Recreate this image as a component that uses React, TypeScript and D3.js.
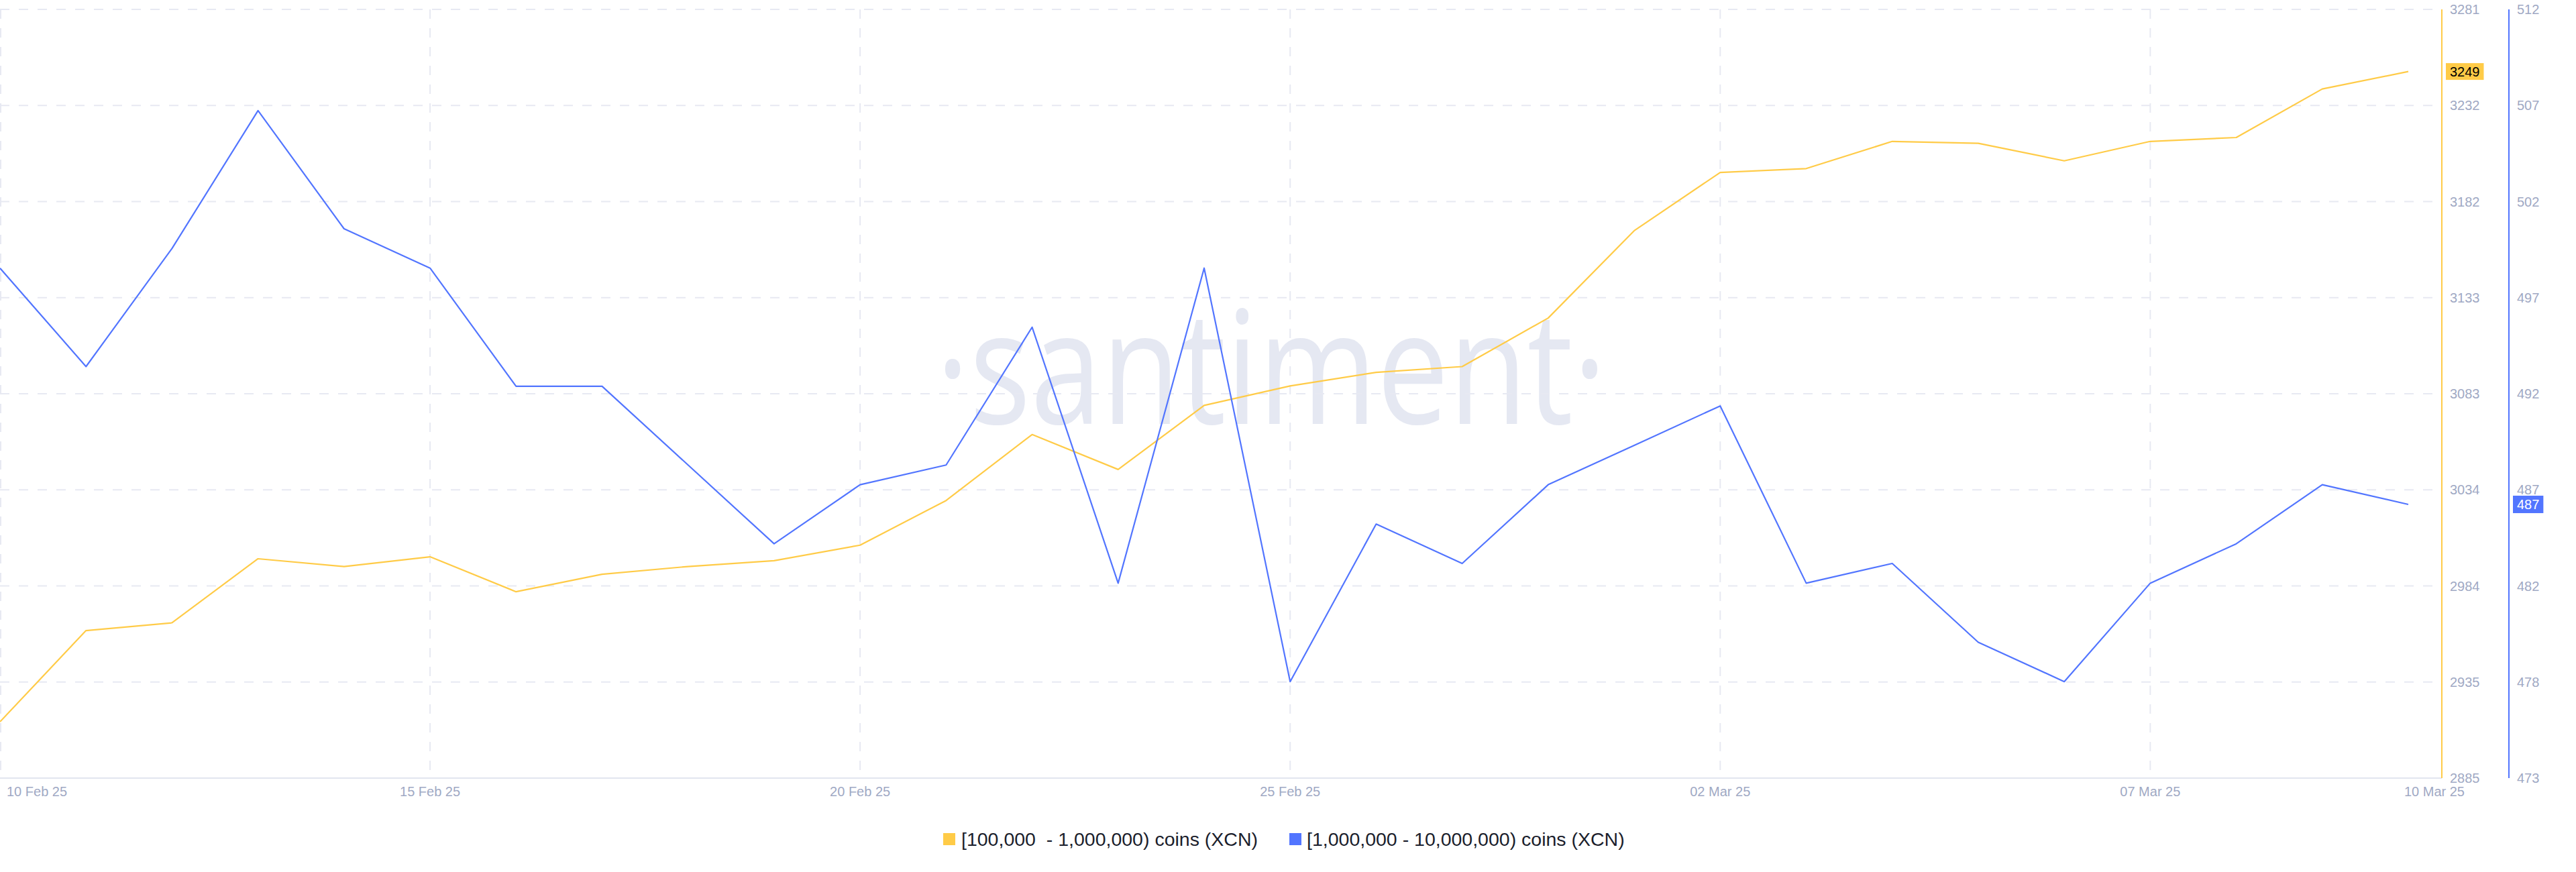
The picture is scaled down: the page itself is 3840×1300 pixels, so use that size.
import React from "react";
import * as d3 from "d3";

const dates = [
  "2025-02-10","2025-02-11","2025-02-12","2025-02-13","2025-02-14","2025-02-15","2025-02-16",
  "2025-02-17","2025-02-18","2025-02-19","2025-02-20","2025-02-21","2025-02-22","2025-02-23",
  "2025-02-24","2025-02-25","2025-02-26","2025-02-27","2025-02-28","2025-03-01","2025-03-02",
  "2025-03-03","2025-03-04","2025-03-05","2025-03-06","2025-03-07","2025-03-08","2025-03-09","2025-03-10",
];

const holders100kTo1M = [
  2914, 2961, 2965, 2998, 2994, 2999, 2981, 2990, 2994, 2997, 3005, 3028, 3062, 3044,
  3077, 3087, 3094, 3097, 3122, 3167, 3197, 3199, 3213, 3212, 3203, 3213, 3215, 3240, 3249,
];

const holders1MTo10M = [
  499, 494, 500, 507, 501, 499, 493, 493, 489, 485, 488, 489, 496, 483,
  499, 478, 486, 484, 488, 490, 492, 483, 484, 480, 478, 483, 485, 488, 487,
];

const yellowDomain = [2885, 3281];
const blueDomain = [473.1, 512.14];
const yellowTickLabels = ["2885", "2935", "2984", "3034", "3083", "3133", "3182", "3232", "3281"];
const blueTickLabels = ["473", "478", "482", "487", "492", "497", "502", "507", "512"];
const xTickDates = ["2025-02-10", "2025-02-15", "2025-02-20", "2025-02-25", "2025-03-02", "2025-03-07", "2025-03-10"];

const seriesNames = ["[100,000  - 1,000,000) coins (XCN)", "[1,000,000 - 10,000,000) coins (XCN)"];
const YELLOW = "#FFCB47";
const BLUE = "#5275FF";

const W = 3840;
const H = 1300;
const plotLeft = 0;
const plotRight = 3640;
const lastX = 3590;
const plotTop = 14;
const plotBottom = 1160;
const labelFont = "'Liberation Sans', Arial, Helvetica, sans-serif";
const tickColor = "#9FA9C4";
const gridColor = "#E7E9F2";

export default function App() {
  const parse = d3.timeParse("%Y-%m-%d");
  const dts = dates.map((d) => parse(d) as Date);
  const x = d3.scaleTime().domain([dts[0], dts[dts.length - 1]]).range([plotLeft, lastX]);
  const yY = d3.scaleLinear().domain(yellowDomain).range([plotBottom, plotTop]);
  const yB = d3.scaleLinear().domain(blueDomain).range([plotBottom, plotTop]);
  const fmt = d3.timeFormat("%d %b %y");

  const lineY = d3.line<number>().x((_, i) => x(dts[i])).y((v) => yY(v));
  const lineB = d3.line<number>().x((_, i) => x(dts[i])).y((v) => yB(v));

  const tickFrac = d3.range(9).map((i) => i / 8);
  const yellowAxisX = plotRight;
  const blueAxisX = plotRight + 100;

  const lastYellow = holders100kTo1M[holders100kTo1M.length - 1];
  const lastBlue = holders1MTo10M[holders1MTo10M.length - 1];
  const badgeW = (s: string) => s.length * 11.12 + 12;

  return (
    <svg width={W} height={H} style={{ position: "absolute", left: 0, top: 0, background: "#fff" }}>
      <rect x={0} y={0} width={W} height={H} fill="#fff" />
      {/* watermark */}
      <text
        x={1395}
        y={632}
        fontFamily="'Open Sans', 'Noto Sans', sans-serif"
        fontSize={235}
        fill="#E5E8F2"
        textLength={1000}
        lengthAdjust="spacingAndGlyphs"
      >
        ·santiment·
      </text>
      {/* horizontal grid */}
      {tickFrac.map((f, i) => {
        const yy = plotBottom - f * (plotBottom - plotTop);
        if (i === 0) return null;
        return (
          <line key={"h" + i} x1={plotLeft} x2={plotRight} y1={yy} y2={yy}
            stroke={gridColor} strokeWidth={2} strokeDasharray="14 14" />
        );
      })}
      {/* vertical grid */}
      {xTickDates.slice(0, -1).map((d) => {
        const xx = Math.max(1, x(parse(d) as Date));
        return (
          <line key={"v" + d} x1={xx} x2={xx} y1={plotTop} y2={plotBottom}
            stroke={gridColor} strokeWidth={2} strokeDasharray="14 14" />
        );
      })}
      {/* x axis */}
      <line x1={plotLeft} x2={plotRight} y1={plotBottom} y2={plotBottom} stroke="#E1E5EF" strokeWidth={2} />
      {xTickDates.map((d, i) => {
        const xx = x(parse(d) as Date);
        let anchor = "middle";
        let tx = xx;
        if (i === 0) { anchor = "start"; tx = xx + 10; }
        if (i === xTickDates.length - 1) { anchor = "end"; tx = xx + 84; }
        return (
          <text key={"xt" + d} x={tx} y={1187} fontFamily={labelFont} fontSize={20}
            fill={tickColor} textAnchor={anchor}>
            {fmt(parse(d) as Date)}
          </text>
        );
      })}
      {/* y axes */}
      <line x1={yellowAxisX} x2={yellowAxisX} y1={plotTop} y2={plotBottom} stroke={YELLOW} strokeWidth={2} />
      <line x1={blueAxisX} x2={blueAxisX} y1={plotTop} y2={plotBottom} stroke={BLUE} strokeWidth={2} />
      {tickFrac.map((f, i) => {
        const yy = plotBottom - f * (plotBottom - plotTop);
        return (
          <g key={"yt" + i}>
            <text x={yellowAxisX + 12} y={yy} dy="0.35em" fontFamily={labelFont} fontSize={20} fill={tickColor}>
              {yellowTickLabels[i]}
            </text>
            <text x={blueAxisX + 12} y={yy} dy="0.35em" fontFamily={labelFont} fontSize={20} fill={tickColor}>
              {blueTickLabels[i]}
            </text>
          </g>
        );
      })}
      {/* lines */}
      <path d={lineY(holders100kTo1M) || ""} fill="none" stroke={YELLOW} strokeWidth={2.2} strokeLinejoin="round" />
      <path d={lineB(holders1MTo10M) || ""} fill="none" stroke={BLUE} strokeWidth={2.2} strokeLinejoin="round" />
      {/* last value badges */}
      <rect x={yellowAxisX + 6} y={yY(lastYellow) - 12.5} width={badgeW(String(lastYellow))} height={25} fill={YELLOW} />
      <text x={yellowAxisX + 12} y={yY(lastYellow)} dy="0.36em" fontFamily={labelFont} fontSize={20} fill="#000">
        {String(lastYellow)}
      </text>
      <rect x={blueAxisX + 6} y={yB(lastBlue) - 13} width={badgeW(String(lastBlue))} height={26} fill={BLUE} />
      <text x={blueAxisX + 12} y={yB(lastBlue)} dy="0.36em" fontFamily={labelFont} fontSize={20} fill="#fff">
        {String(lastBlue)}
      </text>
      {/* legend */}
      <rect x={1406} y={1242} width={18} height={18} fill={YELLOW} />
      <text x={1433} y={1251} dy="0.36em" fontFamily={labelFont} fontSize={28.5} fill="#1B1E2C" style={{ whiteSpace: "pre" }}>
        {seriesNames[0]}
      </text>
      <rect x={1922} y={1242} width={18} height={18} fill={BLUE} />
      <text x={1948} y={1251} dy="0.36em" fontFamily={labelFont} fontSize={28.5} fill="#1B1E2C" style={{ whiteSpace: "pre" }}>
        {seriesNames[1]}
      </text>
    </svg>
  );
}
